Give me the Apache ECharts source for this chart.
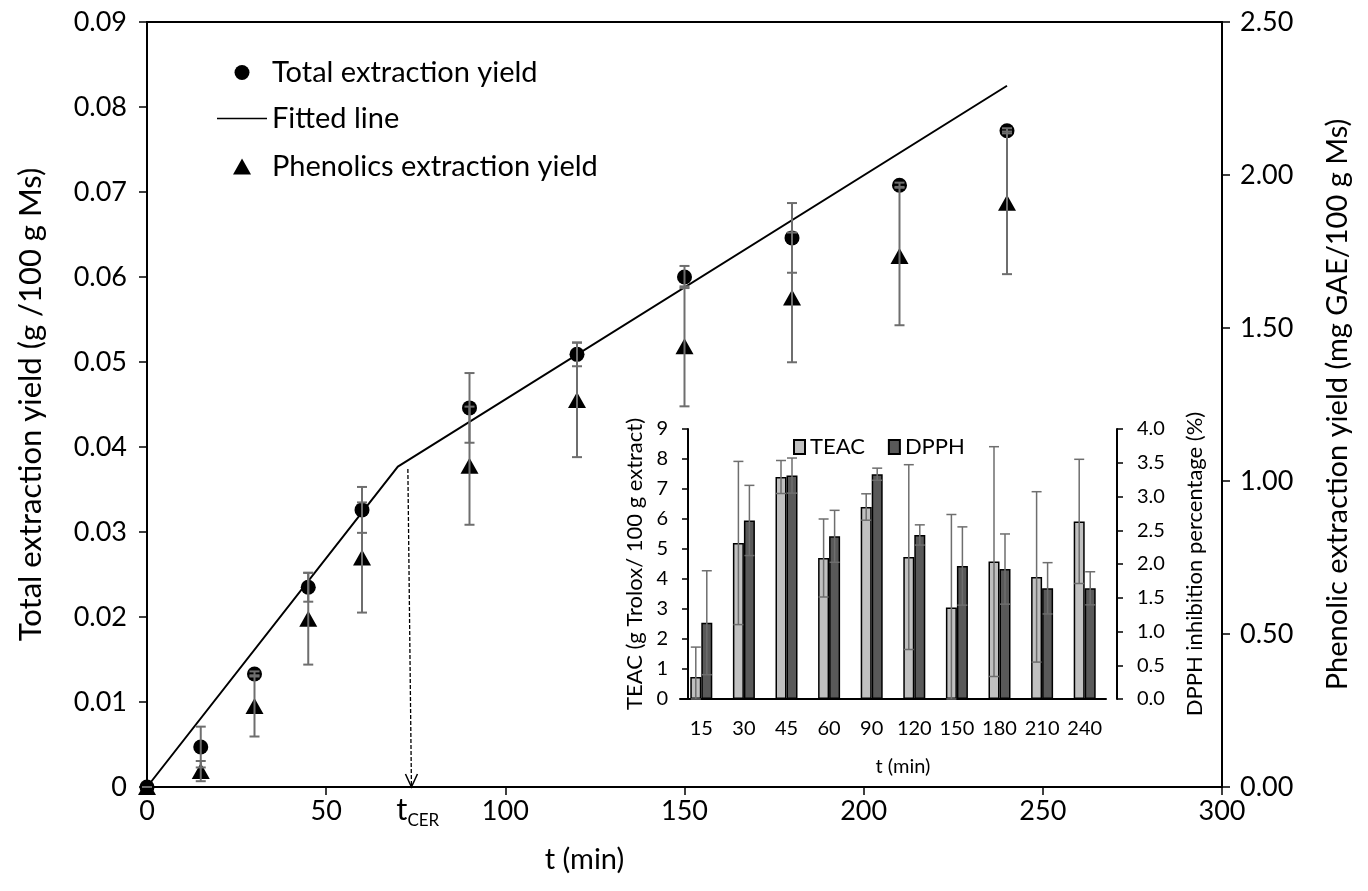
<!DOCTYPE html>
<html><head><meta charset="utf-8">
<script src="https://cdn.jsdelivr.net/npm/echarts@6/dist/echarts.min.js"></script>
<style>html,body{margin:0;padding:0;background:#fff}#c{width:1368px;height:891px}</style>
</head><body><div id="c"></div>
<script>
// ---- main chart data ----
const times = [0, 15, 30, 45, 60, 90, 120, 150, 180, 210, 240];
const totalYield = [0, 0.0047, 0.0133, 0.0235, 0.0326, 0.0446, 0.0509, 0.0600, 0.0646, 0.0708, 0.0772];
const totalErr = [0, 0.0024, 0.0003, 0.0017, 0.0027, 0.0041, 0.0014, 0.0013, 0.0041, 0.0003, 0.0003];
const phenolicYield = [0, 0.052, 0.265, 0.55, 0.75, 1.05, 1.265, 1.44, 1.60, 1.735, 1.909];
const phenolicErr = [0, 0.033, 0.10, 0.15, 0.18, 0.193, 0.187, 0.196, 0.212, 0.226, 0.233];
const fittedLine = [[0, 0], [70, 0.0377], [240, 0.0825]];
const tCerArrow = [[72.8, 0.0374], [73.8, 0]];
// ---- inset data ----
const insetCategories = ['15', '30', '45', '60', '90', '120', '150', '180', '210', '240'];
const teac = [0.73, 5.2, 7.4, 4.7, 6.4, 4.73, 3.05, 4.58, 4.07, 5.92];
const teacErr = [1.0, 2.72, 0.55, 1.3, 0.44, 3.08, 3.1, 3.83, 2.84, 2.07];
const dpph = [1.13, 2.645, 3.31, 2.41, 3.33, 2.43, 1.97, 1.925, 1.64, 1.64];
const dpphErr = [0.77, 0.52, 0.26, 0.385, 0.09, 0.15, 0.58, 0.52, 0.38, 0.245];

const FONT = 'Lato';
const ERR = '#6e6e6e';

function errRender(dx, cap, lw) {
  return function (params, api) {
    const x = api.value(0), y = api.value(1), e = api.value(2);
    const t = api.coord([x, y + e]);
    const b = api.coord([x, Math.max(0, y - e)]);
    const X = t[0] + dx;
    const st = { stroke: ERR, lineWidth: lw };
    return { type: 'group', children: [
      { type: 'line', shape: { x1: X, y1: t[1], x2: X, y2: b[1] }, style: st },
      { type: 'line', shape: { x1: X - cap, y1: t[1], x2: X + cap, y2: t[1] }, style: st },
      { type: 'line', shape: { x1: X - cap, y1: b[1], x2: X + cap, y2: b[1] }, style: st }
    ]};
  };
}

const chart = echarts.init(document.getElementById('c'), null, { renderer: 'canvas' });

const axisLineStyle = { lineStyle: { color: '#000', width: 2 } };
const legendText = { fontSize: 29, color: '#000', fontFamily: FONT };

chart.setOption({
  animation: false,
  textStyle: { fontFamily: FONT },
  grid: [
    { left: 147, right: 146, top: 22, bottom: 104, show: true, borderColor: '#000', borderWidth: 2 },
    { left: 680, right: 262, top: 429, bottom: 192 }
  ],
  legend: [
    { data: [{ name: 'Total extraction yield',
        icon: 'path://M0,0L0,0M50,15L50,15M17.5,7.5A7.5,7.5,0,1,1,32.5,7.5A7.5,7.5,0,1,1,17.5,7.5Z' }],
      left: 217, top: 58, padding: 0, itemWidth: 50, itemHeight: 15, textStyle: legendText },
    { data: [{ name: 'Fitted line', icon: 'path://M0,0L0,0M50,15L50,15M0,6.7L50,6.7L50,8.3L0,8.3Z' }],
      left: 217, top: 104, padding: 0, itemWidth: 50, itemHeight: 15, textStyle: legendText },
    { data: [{ name: 'Phenolics extraction yield', icon: 'path://M0,0L0,0M50,16L50,16M16,16L25,0L34,16Z' }],
      left: 217, top: 152, padding: 0, itemWidth: 50, itemHeight: 16, textStyle: legendText },
    { data: [{ name: 'TEAC', icon: 'rect' }, { name: 'DPPH', icon: 'rect' }], left: 793, top: 436, padding: 0,
      itemWidth: 11, itemHeight: 14, itemGap: 23,
      textStyle: { fontSize: 22, color: '#000', fontFamily: FONT } }
  ],
  xAxis: [
    { type: 'value', gridIndex: 0, min: 0, max: 300, interval: 50,
      name: 't (min)', nameLocation: 'middle', nameGap: 58,
      nameTextStyle: { fontSize: 29, color: '#000', fontFamily: FONT, padding: [0, 200, 0, 0] },
      axisLine: axisLineStyle, axisTick: { show: true, length: 8, lineStyle: { color: '#000', width: 1.5 } },
      axisLabel: { fontSize: 27, color: '#000', margin: 11, fontFamily: FONT },
      splitLine: { show: false } },
    { type: 'category', gridIndex: 1, data: insetCategories,
      name: 't (min)', nameLocation: 'middle', nameGap: 58,
      nameTextStyle: { fontSize: 20, color: '#000', fontFamily: FONT, padding: [0, 0, 0, 20] },
      axisLine: axisLineStyle, axisTick: { show: false },
      axisLabel: { fontSize: 20, color: '#000', margin: 20, fontFamily: FONT, interval: 0 } }
  ],
  yAxis: [
    { type: 'value', gridIndex: 0, min: 0, max: 0.09, interval: 0.01, position: 'left',
      name: 'Total extraction yield (g /100 g Ms)', nameLocation: 'middle', nameGap: 101, nameRotate: 90,
      nameTextStyle: { fontSize: 31, color: '#000', fontFamily: FONT },
      axisLine: { show: true, lineStyle: { color: '#000', width: 2 } },
      axisTick: { show: true, length: 8, lineStyle: { color: '#000', width: 1.5 } },
      axisLabel: { fontSize: 27, color: '#000', margin: 20, fontFamily: FONT,
        formatter: v => v === 0 ? '0' : v.toFixed(2) },
      splitLine: { show: false } },
    { type: 'value', gridIndex: 0, min: 0, max: 2.5, interval: 0.5, position: 'right',
      name: 'Phenolic extraction yield (mg GAE/100 g Ms)', nameLocation: 'middle', nameGap: 101, nameRotate: 90,
      nameTextStyle: { fontSize: 29, color: '#000', fontFamily: FONT },
      axisLine: { show: true, lineStyle: { color: '#000', width: 2 } },
      axisTick: { show: true, length: 8, lineStyle: { color: '#000', width: 1.5 } },
      axisLabel: { fontSize: 27, color: '#000', margin: 18, fontFamily: FONT, formatter: v => v.toFixed(2) },
      splitLine: { show: false } },
    { type: 'value', gridIndex: 1, min: 0, max: 9, interval: 1, position: 'left', offset: -8,
      name: 'TEAC (g Trolox/ 100 g extract)', nameLocation: 'middle', nameGap: 42, nameRotate: 90,
      nameTextStyle: { fontSize: 22, color: '#000', fontFamily: FONT },
      axisLine: { show: true, lineStyle: { color: '#000', width: 2 } },
      axisTick: { show: true, length: 6, lineStyle: { color: '#000', width: 1.5 } },
      axisLabel: { fontSize: 20, color: '#000', margin: 20, fontFamily: FONT },
      splitLine: { show: false } },
    { type: 'value', gridIndex: 1, min: 0, max: 4, interval: 0.5, position: 'right', offset: 11,
      name: 'DPPH inhibition percentage (%)', nameLocation: 'middle', nameGap: 67, nameRotate: 90,
      nameTextStyle: { fontSize: 22, color: '#000', fontFamily: FONT },
      axisLine: { show: true, lineStyle: { color: '#000', width: 2 } },
      axisTick: { show: true, length: 6, lineStyle: { color: '#000', width: 1.5 } },
      axisLabel: { fontSize: 20, color: '#000', margin: 20, fontFamily: FONT, formatter: v => v.toFixed(1) },
      splitLine: { show: false } }
  ],
  series: [
    { name: 'Fitted line', type: 'line', xAxisIndex: 0, yAxisIndex: 0, data: fittedLine,
      symbol: 'none', lineStyle: { color: '#000', width: 2 }, itemStyle: { color: '#000' }, z: 3 },
    { name: 'Total extraction yield', type: 'scatter', xAxisIndex: 0, yAxisIndex: 0,
      data: times.map((t, i) => [t, totalYield[i]]), symbol: 'circle', symbolSize: 15,
      itemStyle: { color: '#000', opacity: 1 }, z: 4 },
    { name: 'Phenolics extraction yield', type: 'scatter', xAxisIndex: 0, yAxisIndex: 1,
      data: times.map((t, i) => [t, phenolicYield[i]]), symbol: 'triangle', symbolSize: [18, 16],
      itemStyle: { color: '#000', opacity: 1 }, z: 4 },
    { type: 'custom', xAxisIndex: 0, yAxisIndex: 0, z: 5, silent: true,
      data: times.map((t, i) => [t, totalYield[i], totalErr[i]]), renderItem: errRender(0, 5, 2) },
    { type: 'custom', xAxisIndex: 0, yAxisIndex: 1, z: 5, silent: true,
      data: times.map((t, i) => [t, phenolicYield[i], phenolicErr[i]]), renderItem: errRender(0, 5, 2) },
    { type: 'custom', xAxisIndex: 0, yAxisIndex: 0, z: 5, silent: true,
      data: [[tCerArrow[0][0], tCerArrow[0][1], tCerArrow[1][0], tCerArrow[1][1]]],
      renderItem: function (params, api) {
        const p0 = api.coord([api.value(0), api.value(1)]);
        const p1 = api.coord([api.value(2), api.value(3)]);
        return { type: 'group', children: [
          { type: 'line', shape: { x1: p0[0], y1: p0[1], x2: p1[0], y2: p1[1] },
            style: { stroke: '#000', lineWidth: 1.3, lineDash: [4, 2] } },
          { type: 'polyline', shape: { points: [[p1[0] - 6, p1[1] - 13], [p1[0], p1[1]], [p1[0] + 6, p1[1] - 13]] },
            style: { stroke: '#000', lineWidth: 1.5, fill: null } },
          { type: 'text', x: p1[0] - 4, y: p1[1] + 7,
            style: { text: 't', font: '31px ' + FONT, fill: '#000', align: 'right', verticalAlign: 'top' } },
          { type: 'text', x: p1[0] - 4, y: p1[1] + 25,
            style: { text: 'CER', font: '17px ' + FONT, fill: '#000', align: 'left', verticalAlign: 'top' } }
        ]};
      } },
    { name: 'TEAC', type: 'bar', xAxisIndex: 1, yAxisIndex: 2, data: teac, barWidth: 11, barGap: '0%',
      itemStyle: { color: '#c0c0c0', borderColor: '#000', borderWidth: 1.5 } },
    { name: 'DPPH', type: 'bar', xAxisIndex: 1, yAxisIndex: 3, data: dpph, barWidth: 11, barGap: '0%',
      itemStyle: { color: '#595959', borderColor: '#000', borderWidth: 1.5 } },
    { type: 'custom', xAxisIndex: 1, yAxisIndex: 2, z: 5, silent: true,
      data: insetCategories.map((c, i) => [i, teac[i], teacErr[i]]), renderItem: errRender(-5.5, 5, 1.5) },
    { type: 'custom', xAxisIndex: 1, yAxisIndex: 3, z: 5, silent: true,
      data: insetCategories.map((c, i) => [i, dpph[i], dpphErr[i]]), renderItem: errRender(5.5, 5, 1.5) }
  ]
});
</script>
</body></html>
